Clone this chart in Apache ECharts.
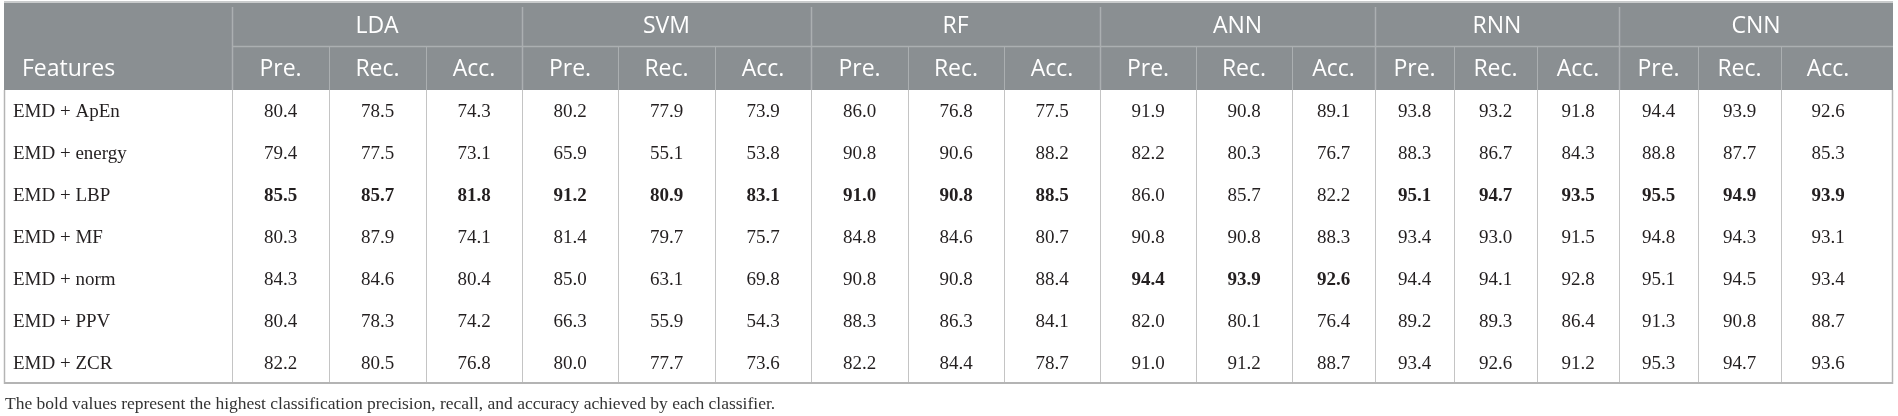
<!DOCTYPE html>
<html><head><meta charset="utf-8">
<script src="https://cdn.jsdelivr.net/npm/echarts@6/dist/echarts.min.js"></script>
<style>html,body{margin:0;padding:0;background:#fff}#c{width:1898px;height:416px}</style>
</head><body><div id="c"></div>
<script>
// ---------------- DATA ----------------
const features = ['EMD + ApEn', 'EMD + energy', 'EMD + LBP', 'EMD + MF', 'EMD + norm', 'EMD + PPV', 'EMD + ZCR'];
const classifiers = ['LDA', 'SVM', 'RF', 'ANN', 'RNN', 'CNN'];
const metrics = ['Pre.', 'Rec.', 'Acc.'];
const featureHeader = 'Features';
// each row: [Pre., Rec., Acc.] per feature
const lda = [[80.4, 78.5, 74.3], [79.4, 77.5, 73.1], [85.5, 85.7, 81.8], [80.3, 87.9, 74.1], [84.3, 84.6, 80.4], [80.4, 78.3, 74.2], [82.2, 80.5, 76.8]];
const svm = [[80.2, 77.9, 73.9], [65.9, 55.1, 53.8], [91.2, 80.9, 83.1], [81.4, 79.7, 75.7], [85.0, 63.1, 69.8], [66.3, 55.9, 54.3], [80.0, 77.7, 73.6]];
const rf  = [[86.0, 76.8, 77.5], [90.8, 90.6, 88.2], [91.0, 90.8, 88.5], [84.8, 84.6, 80.7], [90.8, 90.8, 88.4], [88.3, 86.3, 84.1], [82.2, 84.4, 78.7]];
const ann = [[91.9, 90.8, 89.1], [82.2, 80.3, 76.7], [86.0, 85.7, 82.2], [90.8, 90.8, 88.3], [94.4, 93.9, 92.6], [82.0, 80.1, 76.4], [91.0, 91.2, 88.7]];
const rnn = [[93.8, 93.2, 91.8], [88.3, 86.7, 84.3], [95.1, 94.7, 93.5], [93.4, 93.0, 91.5], [94.4, 94.1, 92.8], [89.2, 89.3, 86.4], [93.4, 92.6, 91.2]];
const cnn = [[94.4, 93.9, 92.6], [88.8, 87.7, 85.3], [95.5, 94.9, 93.9], [94.8, 94.3, 93.1], [95.1, 94.5, 93.4], [91.3, 90.8, 88.7], [95.3, 94.7, 93.6]];
// bold = best per classifier: [feature, classifier]
const boldCells = [['EMD + LBP', 'LDA'], ['EMD + LBP', 'SVM'], ['EMD + LBP', 'RF'], ['EMD + norm', 'ANN'], ['EMD + LBP', 'RNN'], ['EMD + LBP', 'CNN']];
const footnote = 'The bold values represent the highest classification precision, recall, and accuracy achieved by each classifier.';

// ---------------- LAYOUT / STYLE ----------------
const COL_EDGES = [0, 228, 325, 422, 518, 614, 711, 807, 904, 1000, 1096, 1192, 1288, 1371, 1450, 1533, 1615, 1694, 1777, 1889];
const TABLE_W = 1889;
const LAST_TEXT_RIGHT_PAD = 18;
const HEADER_BG = '#8a8f92';
const HEADER_LINE = '#abafb1';
const BODY_LINE = '#c4c4c4';
const OUTER_LINE = '#b4b4b4';
const SANS = '"Open Sans", "Noto Sans", sans-serif';
const SERIF = '"Liberation Serif", "DejaVu Serif", serif';
const HEAD_FONT = '23px ' + SANS;

const tables = { LDA: lda, SVM: svm, RF: rf, ANN: ann, RNN: rnn, CNN: cnn };

function textCenter(c) {
  const l = COL_EDGES[c], r = COL_EDGES[c + 1];
  if (c === COL_EDGES.length - 2) return (l + r - LAST_TEXT_RIGHT_PAD) / 2;
  return (l + r) / 2;
}

// body items: [col, row]
const bodyData = [];
features.forEach((f, r) => { for (let c = 0; c < 19; c++) bodyData.push([c, r]); });

function bodyText(c, r) {
  if (c === 0) return { text: features[r], bold: false };
  const ci = Math.floor((c - 1) / 3), mi = (c - 1) % 3;
  const cls = classifiers[ci];
  const v = tables[cls][r][mi];
  const bold = boldCells.some(b => b[0] === features[r] && b[1] === cls);
  return { text: v.toFixed(1), bold };
}

function renderBody(params, api) {
  const c = api.value(0), r = api.value(1);
  const h = api.size([0, 1])[1];
  const pL = api.coord([COL_EDGES[c], r]);
  const pR = api.coord([COL_EDGES[c + 1], r]);
  const top = pL[1] - h / 2, bot = pL[1] + h / 2;
  const info = bodyText(c, r);
  const children = [];
  const xl = Math.round(pL[0]) + 0.5;
  children.push({ type: 'line', shape: { x1: xl, y1: top, x2: xl, y2: bot },
    style: { stroke: c === 0 ? OUTER_LINE : BODY_LINE, lineWidth: c === 0 ? 1.5 : 1 } });
  if (c === 18) {
    const xr = Math.round(pR[0]) - 0.5;
    children.push({ type: 'line', shape: { x1: xr, y1: top, x2: xr, y2: bot }, style: { stroke: OUTER_LINE, lineWidth: 1.5 } });
  }
  if (r === features.length - 1) {
    children.push({ type: 'line', shape: { x1: pL[0], y1: bot - 1, x2: pR[0], y2: bot - 1 }, style: { stroke: OUTER_LINE, lineWidth: 2 } });
  }
  const tx = c === 0 ? pL[0] + 9 : api.coord([textCenter(c), r])[0];
  children.push({ type: 'text', x: tx, y: pL[1] + 1,
    style: { text: info.text, fill: '#231f20', font: (info.bold ? 'bold ' : '') + '19px ' + SERIF,
      align: c === 0 ? 'left' : 'center', verticalAlign: 'middle' } });
  return { type: 'group', children };
}

// header items: kind 0 background, 1 features label, 2 groups, 3 metrics
const headerData = [[0, 0, 0, 0]];
headerData.push([0, 1, 1, 0]);
classifiers.forEach((cl, i) => headerData.push([1 + i * 3, 0, 2, i]));
classifiers.forEach((cl, i) => metrics.forEach((m, j) => headerData.push([1 + i * 3 + j, 1, 3, j])));

function renderHeader(params, api) {
  const col = api.value(0), row = api.value(1), kind = api.value(2), idx = api.value(3);
  const h = api.size([0, 1])[1];
  if (kind === 0) {
    const a = api.coord([0, 0]), b = api.coord([TABLE_W, 1]);
    return { type: 'group', children: [
      { type: 'rect', shape: { x: a[0], y: a[1] - h / 2, width: b[0] - a[0], height: b[1] + h / 2 - (a[1] - h / 2) }, style: { fill: HEADER_BG } },
      { type: 'line', shape: { x1: a[0], y1: a[1] - h / 2 - 1, x2: b[0], y2: a[1] - h / 2 - 1 }, style: { stroke: '#c9cbcc', lineWidth: 2 } }
    ] };
  }
  if (kind === 1) {
    const p = api.coord([COL_EDGES[0], row]);
    return { type: 'text', x: p[0] + 18, y: p[1] + 1,
      style: { text: featureHeader, fill: '#fff', font: HEAD_FONT, align: 'left', verticalAlign: 'middle' } };
  }
  if (kind === 2) {
    const l = api.coord([COL_EDGES[col], 0]), r = api.coord([COL_EDGES[col + 3], 0]);
    const bottom1 = api.coord([0, 1])[1] + h / 2;
    const top0 = l[1] - h / 2;
    const xl = Math.round(l[0]) + 0.5;
    return { type: 'group', children: [
      { type: 'line', shape: { x1: xl, y1: top0 + 4, x2: xl, y2: bottom1 }, style: { stroke: HEADER_LINE, lineWidth: 1.5 } },
      { type: 'line', shape: { x1: l[0], y1: l[1] + h / 2, x2: r[0], y2: l[1] + h / 2 }, style: { stroke: HEADER_LINE, lineWidth: 1.5 } },
      { type: 'text', x: (l[0] + r[0]) / 2, y: l[1] + 2,
        style: { text: classifiers[idx], fill: '#fff', font: HEAD_FONT, align: 'center', verticalAlign: 'middle' } }
    ] };
  }
  const p = api.coord([textCenter(col), 1]);
  const l = api.coord([COL_EDGES[col], 1]);
  const children = [{ type: 'text', x: p[0], y: p[1] + 1,
    style: { text: metrics[idx], fill: '#fff', font: HEAD_FONT, align: 'center', verticalAlign: 'middle' } }];
  if (idx > 0) {
    const xl = Math.round(l[0]) + 0.5;
    children.push({ type: 'line', shape: { x1: xl, y1: l[1] - h / 2, x2: xl, y2: l[1] + h / 2 }, style: { stroke: HEADER_LINE, lineWidth: 1 } });
  }
  return { type: 'group', children };
}

const chart = echarts.init(document.getElementById('c'), null, { renderer: 'canvas' });
chart.setOption({
  animation: false,
  backgroundColor: '#fff',
  title: { text: footnote, left: 0, top: 390,
    textStyle: { fontFamily: SERIF, fontSize: 17.5, fontWeight: 'normal', color: '#333' } },
  grid: [
    { left: 4, right: 5, top: 3, height: 87 },
    { left: 4, right: 5, top: 90, height: 294 }
  ],
  xAxis: [
    { type: 'value', gridIndex: 0, min: 0, max: TABLE_W, show: false },
    { type: 'value', gridIndex: 1, min: 0, max: TABLE_W, show: false }
  ],
  yAxis: [
    { type: 'category', gridIndex: 0, data: ['groups', 'metrics'], inverse: true, show: false },
    { type: 'category', gridIndex: 1, data: features, inverse: true, show: false }
  ],
  series: [
    { type: 'custom', xAxisIndex: 0, yAxisIndex: 0, renderItem: renderHeader, data: headerData, silent: true },
    { type: 'custom', xAxisIndex: 1, yAxisIndex: 1, renderItem: renderBody, data: bodyData, silent: true }
  ]
});
</script>
</body></html>
